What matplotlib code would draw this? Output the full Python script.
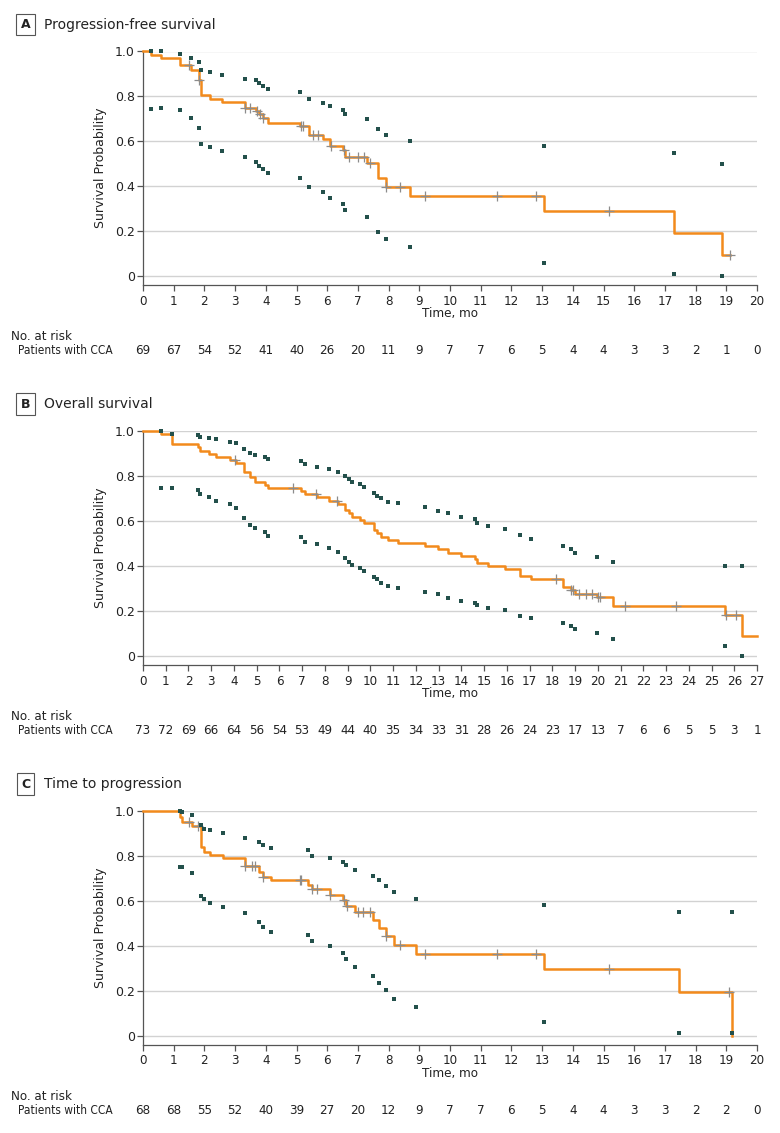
import matplotlib
matplotlib.use('Agg')
import matplotlib.pyplot as plt
import matplotlib.transforms as mtransforms
import numpy as np

plt.rcParams.update({
    'font.family': 'DejaVu Sans',
    'font.size': 8,
    'axes.linewidth': 0.9,
})

# ------------------------------------------------------------
# Data
# ------------------------------------------------------------
# A: progression-free survival
pfs_time = [0.27, 0.58, 1.2, 1.57, 1.81, 1.9, 2.19, 2.58, 3.31, 3.69, 3.77, 3.9, 4.06,
            5.1, 5.4, 5.87, 6.09, 6.5, 6.58, 7.3, 7.66, 7.9, 8.71, 13.07, 17.3, 18.86]
pfs_surv = [0.986, 0.971, 0.942, 0.917, 0.872, 0.807, 0.79, 0.777, 0.75, 0.735, 0.72, 0.705, 0.68,
            0.667, 0.628, 0.61, 0.58, 0.562, 0.532, 0.502, 0.438, 0.398, 0.358, 0.29, 0.19, 0.094]
pfs_upper = [1.0, 1.0, 0.99, 0.973, 0.955, 0.917, 0.91, 0.897, 0.877, 0.872, 0.858, 0.845, 0.832,
             0.818, 0.79, 0.771, 0.758, 0.74, 0.72, 0.7, 0.653, 0.628, 0.6, 0.58, 0.547, 0.5]
pfs_lower = [0.746, 0.748, 0.74, 0.706, 0.66, 0.588, 0.576, 0.557, 0.531, 0.51, 0.492, 0.478, 0.459,
             0.438, 0.398, 0.373, 0.346, 0.319, 0.294, 0.262, 0.197, 0.163, 0.131, 0.059, 0.008, 0.0]
pfs_censor = [1.5, 1.83, 3.33, 3.5, 3.72, 3.8, 3.92, 5.15, 5.22, 5.55, 5.7, 6.12, 6.55, 6.7,
              7.0, 7.2, 7.4, 7.92, 8.38, 9.18, 11.52, 12.79, 15.17, 19.11]
pfs_risk = [69, 67, 54, 52, 41, 40, 26, 20, 11, 9, 7, 7, 6, 5, 4, 4, 3, 3, 2, 1, 0]

# B: overall survival
os_time = [0.81, 1.29, 2.44, 2.52, 2.9, 3.2, 3.81, 4.1, 4.43, 4.69, 4.93, 5.38, 5.48, 6.93, 7.11,
           7.67, 8.18, 8.58, 8.87, 9.06, 9.18, 9.56, 9.71, 10.16, 10.29, 10.45, 10.77, 11.21, 12.39,
           12.97, 13.41, 14.0, 14.59, 14.69, 15.17, 15.9, 16.6, 17.08, 18.47, 18.8, 18.98, 19.97,
           20.67, 25.58, 26.34]
os_surv = [0.986, 0.943, 0.929, 0.914, 0.90, 0.886, 0.871, 0.857, 0.82, 0.795, 0.776, 0.763, 0.749,
           0.735, 0.72, 0.706, 0.691, 0.677, 0.65, 0.636, 0.62, 0.607, 0.593, 0.561, 0.548, 0.528,
           0.518, 0.503, 0.489, 0.474, 0.459, 0.443, 0.43, 0.415, 0.398, 0.386, 0.354, 0.341, 0.308,
           0.294, 0.277, 0.26, 0.222, 0.18, 0.09]
os_upper = [1.0, 0.988, 0.983, 0.976, 0.972, 0.966, 0.954, 0.949, 0.921, 0.905, 0.893, 0.887, 0.877,
            0.868, 0.853, 0.842, 0.83, 0.82, 0.801, 0.786, 0.773, 0.764, 0.753, 0.727, 0.714, 0.702,
            0.687, 0.679, 0.665, 0.647, 0.635, 0.62, 0.608, 0.59, 0.58, 0.564, 0.536, 0.519, 0.49,
            0.475, 0.457, 0.441, 0.418, 0.402, 0.402]
os_lower = [0.749, 0.749, 0.737, 0.72, 0.709, 0.691, 0.675, 0.66, 0.615, 0.582, 0.569, 0.553, 0.535,
            0.527, 0.509, 0.497, 0.479, 0.464, 0.434, 0.42, 0.405, 0.39, 0.38, 0.353, 0.341, 0.326,
            0.311, 0.3, 0.286, 0.274, 0.256, 0.246, 0.237, 0.225, 0.213, 0.202, 0.178, 0.168, 0.146,
            0.133, 0.118, 0.101, 0.074, 0.042, 0.0]
os_censor = [4.03, 6.6, 7.6, 8.55, 18.18, 18.83, 18.9, 19.17, 19.47, 19.76, 20.01, 20.11, 21.18,
             23.46, 25.65, 26.06]
os_risk = [73, 72, 69, 66, 64, 56, 54, 53, 49, 44, 40, 35, 34, 33, 31, 28, 26, 24, 23, 17, 13, 7,
           6, 6, 5, 5, 3, 1]

# C: time to progression
ttp_time = [1.2, 1.28, 1.6, 1.9, 1.98, 2.19, 2.6, 3.31, 3.77, 3.9, 4.18, 5.38, 5.5, 6.08, 6.5, 6.6,
            6.9, 7.48, 7.68, 7.9, 8.18, 8.88, 13.06, 17.46, 19.17]
ttp_surv = [0.972, 0.952, 0.933, 0.838, 0.819, 0.804, 0.792, 0.755, 0.729, 0.708, 0.693, 0.671,
            0.654, 0.627, 0.605, 0.579, 0.551, 0.515, 0.477, 0.444, 0.404, 0.365, 0.295, 0.193, 0.0]
ttp_upper = [1.0, 0.994, 0.98, 0.936, 0.92, 0.916, 0.9, 0.881, 0.863, 0.848, 0.837, 0.825, 0.801,
             0.79, 0.772, 0.758, 0.737, 0.712, 0.693, 0.668, 0.641, 0.607, 0.582, 0.548, 0.548]
ttp_lower = [0.752, 0.752, 0.725, 0.622, 0.609, 0.589, 0.574, 0.545, 0.505, 0.482, 0.463, 0.446,
             0.423, 0.397, 0.367, 0.34, 0.307, 0.267, 0.236, 0.204, 0.162, 0.129, 0.058, 0.01, 0.01]
ttp_censor = [1.5, 1.8, 3.33, 3.55, 3.65, 3.92, 5.1, 5.15, 5.52, 5.68, 6.1, 6.55, 6.65, 7.0, 7.15,
              7.38, 7.92, 8.38, 9.18, 11.52, 12.79, 15.17, 19.08]
ttp_risk = [68, 68, 55, 52, 40, 39, 27, 20, 12, 9, 7, 7, 6, 5, 4, 4, 3, 3, 2, 2, 0]

# ------------------------------------------------------------
# Styling
# ------------------------------------------------------------
W, H = 780.0, 1133.0
col_km = '#f28a1c'
col_ci = '#23504b'
col_cens = '#8c8c8c'
col_axis = '#555555'
col_text = '#222222'
narrow = dict(family='DejaVu Sans', stretch='condensed')

fig = plt.figure(figsize=(W / 100, H / 100), dpi=100)


def draw_panel(letter, title, times, surv, upper, lower, censor, risk, xmax, end, top_px):
    bottom_px = top_px + 233.5
    ax = fig.add_axes([143 / W, 1 - bottom_px / H, 614 / W, (bottom_px - top_px) / H])

    # KM step curve
    xs = [0] + list(times) + [end]
    ys = [1.0] + list(surv) + [surv[-1]]
    ax.step(xs, ys, where='post', color=col_km, lw=1.8, zorder=3, clip_on=False)

    # censor marks
    t = np.array(times)
    s = np.array(surv)
    cy = []
    for c in censor:
        i = np.searchsorted(t, c, side='right') - 1
        cy.append(1.0 if i < 0 else s[i])
    ax.plot(censor, cy, '+', color=col_cens, ms=7, mew=0.9, zorder=4, clip_on=False)

    # pointwise confidence limits
    ax.plot(times, upper, 's', color=col_ci, ms=2.6, mew=0, zorder=5, clip_on=False)
    ax.plot(times, lower, 's', color=col_ci, ms=2.6, mew=0, zorder=5, clip_on=False)

    ax.set_xlim(0, xmax)
    ax.set_ylim(-0.04, 1.0)
    ax.set_xticks(range(0, xmax + 1))
    ax.set_yticks([0, 0.2, 0.4, 0.6, 0.8, 1.0])
    ax.set_yticklabels(['0', '0.2', '0.4', '0.6', '0.8', '1.0'])
    ax.yaxis.grid(True, color='#d2d2d2', lw=1.0)
    ax.set_axisbelow(True)
    for side in ('top', 'right'):
        ax.spines[side].set_visible(False)
    for side in ('left', 'bottom'):
        ax.spines[side].set_color(col_axis)
    ax.tick_params(axis='y', length=4, width=0.9, color=col_axis, pad=2,
                   labelsize=9, labelcolor=col_text)
    ax.tick_params(axis='x', length=4, width=0.9, color=col_axis, pad=3,
                   labelsize=9.5, labelcolor=col_text)
    for lab in ax.get_xticklabels():
        lab.set_fontstretch('condensed')

    ax.set_ylabel('Survival Probability', fontsize=9, color=col_text)
    ax.yaxis.set_label_coords(-0.058, 0.5)
    ax.set_xlabel('Time, mo', fontsize=9.5, color=col_text, fontstretch='condensed')
    ax.xaxis.set_label_coords(0.5, -0.095)

    # panel heading
    fig.text(25.5 / W, 1 - (top_px - 27) / H, letter, ha='center', va='center',
             fontsize=9, fontweight='bold', color=col_text,
             bbox=dict(boxstyle='square,pad=0.35', fc='white', ec=col_axis, lw=0.8))
    fig.text(44 / W, 1 - (top_px - 27) / H, title, ha='left', va='center',
             fontsize=10, color=col_text)

    # number at risk
    base = top_px + 224.5  # y pixel of survival 0
    fig.text(11 / W, 1 - (base + 61) / H, 'No. at risk', ha='left', va='center',
             fontsize=9.5, color=col_text, **narrow)
    fig.text(18 / W, 1 - (base + 75) / H, 'Patients with CCA', ha='left', va='center',
             fontsize=8.6, color=col_text, **narrow)
    trans = mtransforms.blended_transform_factory(ax.transData, fig.transFigure)
    for i, n in enumerate(risk):
        ax.text(i, 1 - (base + 75) / H, str(n), transform=trans, ha='center', va='center',
                fontsize=9.5, color=col_text, clip_on=False, **narrow)
    return ax


draw_panel('A', 'Progression-free survival', pfs_time, pfs_surv, pfs_upper, pfs_lower,
           pfs_censor, pfs_risk, 20, 19.11, 51.5)
draw_panel('B', 'Overall survival', os_time, os_surv, os_upper, os_lower,
           os_censor, os_risk, 27, 27.0, 431.3)
draw_panel('C', 'Time to progression', ttp_time, ttp_surv, ttp_upper, ttp_lower,
           ttp_censor, ttp_risk, 20, 19.17, 811.0)

fig.savefig('out.png', dpi=100)
